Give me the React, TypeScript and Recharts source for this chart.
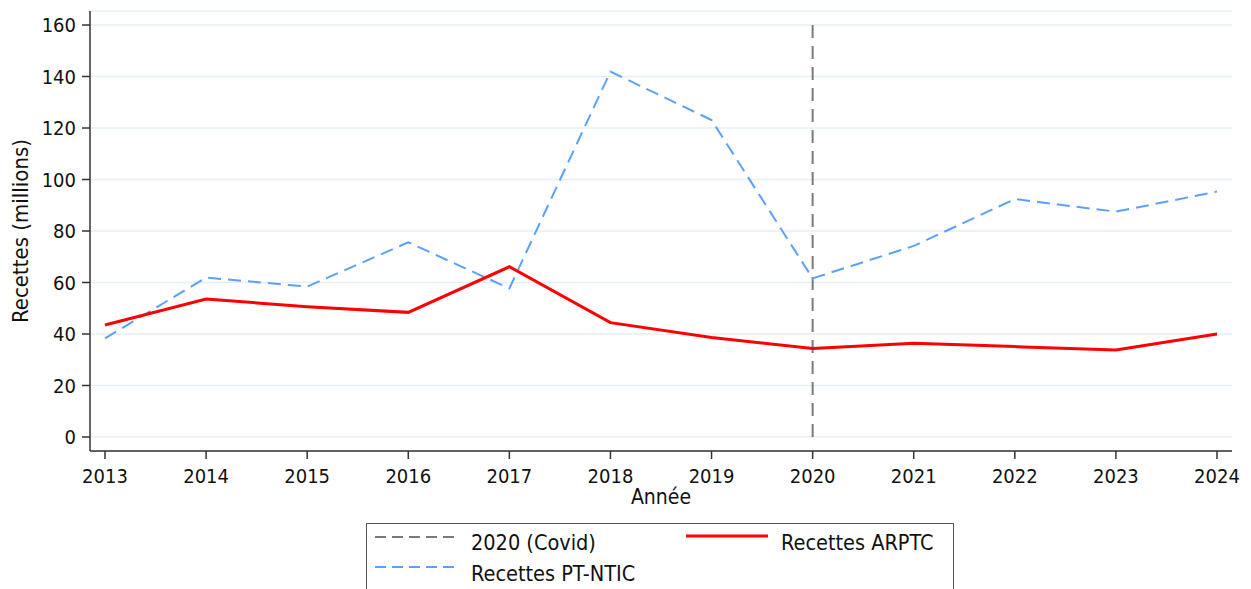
import React from "react";
import { LineChart, Line, XAxis, YAxis, CartesianGrid, ReferenceLine } from "recharts";

const years = [2013, 2014, 2015, 2016, 2017, 2018, 2019, 2020, 2021, 2022, 2023, 2024];
const recettesArptc = [43.5, 53.6, 50.6, 48.4, 66.1, 44.4, 38.6, 34.4, 36.4, 35.1, 33.8, 40.0];
const recettesPtNtic = [38.3, 61.9, 58.4, 75.6, 57.7, 141.9, 123.1, 61.6, 74.2, 92.4, 87.5, 95.3];
const yTicks = [0, 20, 40, 60, 80, 100, 120, 140, 160];
const covidYear = 2020;

const data = years.map((y, i) => ({ year: y, arptc: recettesArptc[i], ptntic: recettesPtNtic[i] }));

const FONT = "'DejaVu Sans Condensed', 'DejaVu Sans', sans-serif";
const BLUE = "#59a1fa";
const RED = "#ff0000";
const GRAY = "#7a7a7a";

export default function App() {
    return (
        <div style={{ position: "absolute", left: 0, top: 0, width: 1251, height: 589, overflow: "hidden", background: "#fff", fontFamily: FONT }}>
            <LineChart width={1251} height={589} data={data} margin={{ top: 11, right: 19, left: 0, bottom: 78 }}>
                <CartesianGrid vertical={false} stroke="#e6eff1" strokeWidth={1.5} />
                <XAxis
                    dataKey="year"
                    type="number"
                    domain={[2013, 2024]}
                    ticks={years}
                    padding={{ left: 15, right: 15 }}
                    height={60}
                    tickSize={8}
                    tickMargin={10}
                    stroke="#333"
                    strokeWidth={1.5}
                    tick={{ fill: "#111", fontSize: 20, fontFamily: FONT }}
                    label={{ value: "Année", position: "insideBottom", offset: 7, fill: "#111", fontSize: 21, fontFamily: FONT }}
                />
                <YAxis
                    type="number"
                    domain={[-5.44, 165.44]}
                    allowDataOverflow
                    ticks={yTicks}
                    width={90}
                    tickSize={8}
                    tickMargin={6}
                    stroke="#333"
                    strokeWidth={1.5}
                    tick={{ fill: "#111", fontSize: 20, fontFamily: FONT }}
                    label={{ value: "Recettes (millions)", angle: -90, position: "insideLeft", offset: 20, fill: "#111", fontSize: 22, fontFamily: FONT, style: { textAnchor: "middle" } }}
                />
                <ReferenceLine
                    segment={[{ x: covidYear, y: 0 }, { x: covidYear, y: 160 }]}
                    stroke={GRAY}
                    strokeWidth={2}
                    strokeDasharray="13 8"
                />
                <Line type="linear" dataKey="ptntic" stroke={BLUE} strokeWidth={2} strokeDasharray="13 7" dot={false} isAnimationActive={false} />
                <Line type="linear" dataKey="arptc" stroke={RED} strokeWidth={3} dot={false} isAnimationActive={false} />
            </LineChart>
            <div style={{ position: "absolute", left: 366, top: 523, width: 588, height: 90, border: "1.5px solid #555", boxSizing: "border-box", fontSize: 21.5, color: "#111" }}>
                <svg style={{ position: "absolute", left: 8, top: 10 }} width={84} height={6}>
                    <line x1={0} y1={3} x2={84} y2={3} stroke={GRAY} strokeWidth={2} strokeDasharray="11 6" />
                </svg>
                <div style={{ position: "absolute", left: 104, top: 7, lineHeight: "24px" }}>2020 (Covid)</div>
                <svg style={{ position: "absolute", left: 319, top: 9, }} width={82} height={6}>
                    <line x1={0} y1={3} x2={82} y2={3} stroke={RED} strokeWidth={3} />
                </svg>
                <div style={{ position: "absolute", left: 414, top: 7, lineHeight: "24px" }}>Recettes ARPTC</div>
                <svg style={{ position: "absolute", left: 8, top: 40 }} width={84} height={6}>
                    <line x1={0} y1={3} x2={84} y2={3} stroke={BLUE} strokeWidth={2} strokeDasharray="11 6" />
                </svg>
                <div style={{ position: "absolute", left: 104, top: 38, lineHeight: "24px" }}>Recettes PT-NTIC</div>
            </div>
        </div>
    );
}
